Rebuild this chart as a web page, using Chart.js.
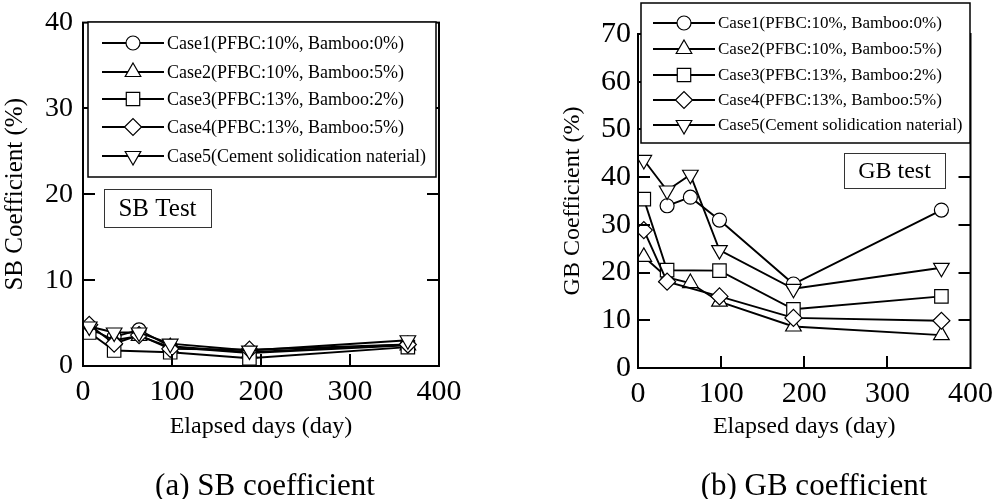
<!DOCTYPE html>
<html>
<head>
<meta charset="utf-8">
<script src="https://cdn.jsdelivr.net/npm/chart.js@4.4.0/dist/chart.umd.min.js"></script>
<style>
  html, body { margin: 0; padding: 0; background: #fff; }
  #wrap { position: relative; width: 1001px; height: 499px; overflow: hidden; }
  .panel { position: absolute; top: 0; height: 499px; }
  #sbPanel { left: 0; width: 500px; }
  #gbPanel { left: 500px; width: 501px; }
</style>
</head>
<body>
<div id="wrap">
  <div class="panel" id="sbPanel"><canvas id="sbChart" width="500" height="499"></canvas></div>
  <div class="panel" id="gbPanel"><canvas id="gbChart" width="501" height="499"></canvas></div>
</div>
<script>
// ---- data ----
const days = [7, 35, 63, 98, 187, 365];

const caseLabels = [
  'Case1(PFBC:10%, Bamboo:0%)',
  'Case2(PFBC:10%, Bamboo:5%)',
  'Case3(PFBC:13%, Bamboo:2%)',
  'Case4(PFBC:13%, Bamboo:5%)',
  'Case5(Cement solidication naterial)'
];

// SB coefficient (%)
const sbCase1 = [null, 3.4, 4.2, 2.3, 1.6, 2.5];
const sbCase2 = [4.4, 3.0, 3.5, 2.2, 1.5, 2.4];
const sbCase3 = [3.9, 1.8, null, 1.6, 0.9, 2.2];
const sbCase4 = [4.8, 2.6, 3.6, 2.0, 1.9, 2.5];
const sbCase5 = [4.6, 3.9, 3.9, 2.6, 1.8, 3.0];

// GB coefficient (%)
const gbCase1 = [null, 34.0, 35.8, 31.0, 17.6, 33.1];
const gbCase2 = [23.3, 19.0, 17.8, 13.9, 8.7, 6.9];
const gbCase3 = [35.4, 20.5, null, 20.4, 12.3, 15.0];
const gbCase4 = [28.9, 18.1, null, 15.0, 10.5, 9.9];
const gbCase5 = [43.6, 37.2, 40.5, 24.7, 16.6, 21.0];

const dayTicks = [0, 100, 200, 300, 400];
const sbTicks = [0, 10, 20, 30, 40];
const gbTicks = [0, 10, 20, 30, 40, 50, 60, 70];

// marker look per case
const markers = [
  { style: 'circle', radius: 7, rotation: 0 },
  { style: 'triangle', radius: 9, rotation: 0 },
  { style: 'rect', radius: 9.5, rotation: 0 },
  { style: 'rectRot', radius: 8.5, rotation: 0 },
  { style: 'triangle', radius: 9, rotation: 180 }
];

const SERIF = "'Liberation Serif', 'Times New Roman', serif";

function makeDatasets(series) {
  return series.map((vals, i) => ({
    label: caseLabels[i],
    data: days.map((d, j) => ({ x: d, y: vals[j] })).filter(p => p.y !== null),
    order: series.length - i, // later cases drawn on top
    showLine: true,
    borderColor: '#000',
    borderWidth: 1.9,
    pointStyle: markers[i].style,
    pointRadius: markers[i].radius,
    pointRotation: markers[i].rotation,
    pointBackgroundColor: '#fff',
    pointBorderColor: '#000',
    pointBorderWidth: 1.2
  }));
}

// frame, inward ticks, legend box, tag box and caption
const framePlugin = {
  id: 'frame',
  afterDatasetsDraw(chart, args, opts) {
    const { ctx, chartArea: a, scales: { x, y } } = chart;
    ctx.save();
    ctx.strokeStyle = '#000';
    ctx.lineWidth = 2;
    ctx.strokeRect(a.left, a.top, a.right - a.left, a.bottom - a.top);

    ctx.beginPath();
    x.ticks.forEach(t => {
      if (t.value <= x.min || t.value >= x.max) return;
      const px = Math.round(x.getPixelForValue(t.value));
      ctx.moveTo(px, a.bottom); ctx.lineTo(px, a.bottom - 12);
      ctx.moveTo(px, a.top); ctx.lineTo(px, a.top + 12);
    });
    y.ticks.forEach(t => {
      if (t.value <= y.min || t.value >= y.max) return;
      const py = Math.round(y.getPixelForValue(t.value));
      ctx.moveTo(a.left, py); ctx.lineTo(a.left + 12, py);
      ctx.moveTo(a.right, py); ctx.lineTo(a.right - 12, py);
    });
    ctx.stroke();

    // legend
    const lg = opts.legend;
    ctx.fillStyle = '#fff';
    ctx.fillRect(lg.x, lg.y, lg.w, lg.h);
    ctx.lineWidth = 1.5;
    ctx.strokeRect(lg.x, lg.y, lg.w, lg.h);
    ctx.font = lg.size + 'px ' + SERIF;
    ctx.textBaseline = 'middle';
    ctx.textAlign = 'left';
    chart.data.datasets.forEach((ds, i) => {
      const ry = lg.rows[i];
      ctx.strokeStyle = '#000';
      ctx.lineWidth = 1.9;
      ctx.beginPath();
      ctx.moveTo(lg.lineX0, ry); ctx.lineTo(lg.lineX1, ry);
      ctx.stroke();
      ctx.fillStyle = '#fff';
      ctx.lineWidth = 1.2;
      Chart.helpers.drawPoint(ctx, {
        pointStyle: ds.pointStyle, radius: ds.pointRadius,
        rotation: ds.pointRotation, borderWidth: 1.2
      }, (lg.lineX0 + lg.lineX1) / 2, ry);
      ctx.fillStyle = '#000';
      ctx.fillText(ds.label, lg.textX, ry + 1);
    });

    // tag box
    const tg = opts.tag;
    ctx.fillStyle = '#fff';
    ctx.fillRect(tg.x, tg.y, tg.w, tg.h);
    ctx.strokeStyle = '#333';
    ctx.lineWidth = 1;
    ctx.strokeRect(tg.x + 0.5, tg.y + 0.5, tg.w, tg.h);
    ctx.fillStyle = '#000';
    ctx.font = tg.size + 'px ' + SERIF;
    ctx.textAlign = 'center';
    ctx.fillText(tg.text, tg.x + tg.w / 2, tg.y + tg.h / 2 + 1);

    // caption
    const cp = opts.caption;
    ctx.font = cp.size + 'px ' + SERIF;
    ctx.fillText(cp.text, cp.x, cp.y);
    ctx.restore();
  }
};

function makeChart(canvasId, series, yTicks, yTitle, yTitleSize, yTickSize, yPad, box, frameOpts) {
  return new Chart(document.getElementById(canvasId), {
    type: 'scatter',
    data: { datasets: makeDatasets(series) },
    plugins: [framePlugin],
    options: {
      responsive: false,
      animation: false,
      devicePixelRatio: 1,
      events: [],
      layout: { padding: { left: box.padLeft, top: box.top, right: box.padRight, bottom: 0 } },
      plugins: {
        legend: { display: false },
        tooltip: { enabled: false },
        frame: frameOpts
      },
      scales: {
        x: {
          type: 'linear',
          min: 0, max: 400,
          afterBuildTicks: s => { s.ticks = dayTicks.map(v => ({ value: v })); },
          afterFit: s => { s.height = box.xHeight; },
          grid: { display: false, drawTicks: false },
          border: { display: false },
          ticks: { color: '#000', padding: 8, maxRotation: 0, font: { family: SERIF, size: 30 } },
          title: {
            display: true, text: 'Elapsed days (day)', color: '#000',
            font: { family: SERIF, size: 24 }, padding: { top: 0, bottom: 58 }
          }
        },
        y: {
          type: 'linear',
          min: 0, max: yTicks[yTicks.length - 1],
          afterBuildTicks: s => { s.ticks = yTicks.map(v => ({ value: v })); },
          afterFit: s => { s.width = box.yWidth; },
          grid: { display: false, drawTicks: false },
          border: { display: false },
          ticks: { color: '#000', padding: yPad, font: { family: SERIF, size: yTickSize, lineHeight: 0.9 } },
          title: {
            display: true, text: yTitle, color: '#000',
            font: { family: SERIF, size: yTitleSize }, padding: 0
          }
        }
      }
    }
  });
}

makeChart('sbChart', [sbCase1, sbCase2, sbCase3, sbCase4, sbCase5], sbTicks,
  'SB Coefficient (%)', 25, 28, 10,
  { padLeft: 0, yWidth: 83, top: 13, padRight: 61, xHeight: 133 },
  {
    legend: { x: 88, y: 22, w: 348, h: 155, rows: [43, 72, 99, 127, 156],
              lineX0: 102, lineX1: 164, textX: 167, size: 18 },
    tag: { x: 104, y: 189, w: 107, h: 38, text: 'SB Test', size: 25 },
    caption: { x: 265, y: 487, text: '(a) SB coefficient', size: 31 }
  });

makeChart('gbChart', [gbCase1, gbCase2, gbCase3, gbCase4, gbCase5], gbTicks,
  'GB Coefficient (%)', 24, 30, 7,
  { padLeft: 58, yWidth: 80, top: 34, padRight: 23, xHeight: 131 },
  {
    legend: { x: 141, y: 3, w: 329, h: 140, rows: [23, 49, 75, 100, 125],
              lineX0: 153, lineX1: 215, textX: 218, size: 17 },
    tag: { x: 344, y: 153, w: 101, h: 35, text: 'GB test', size: 24 },
    caption: { x: 314, y: 487, text: '(b) GB coefficient', size: 31 }
  });
</script>
</body>
</html>
